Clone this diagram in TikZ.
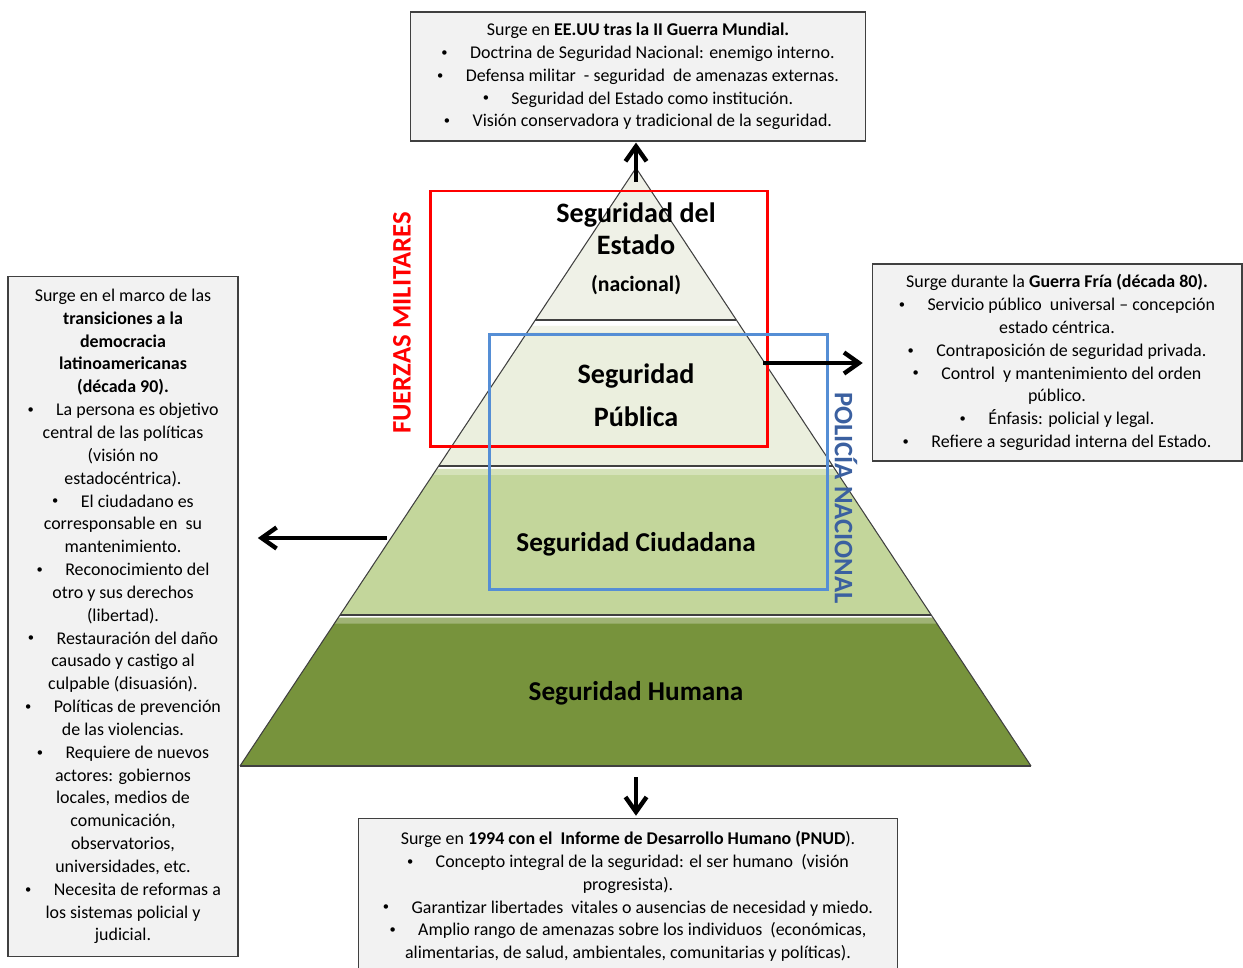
\documentclass[tikz,border=0pt]{standalone}
\usepackage{fontspec}
\usepackage{graphicx}
\setmainfont{Carlito}
\usetikzlibrary{arrows.meta,calc}
\definecolor{estado}{RGB}{239,241,231}
\definecolor{publica}{RGB}{235,239,222}
\definecolor{ciudadana}{RGB}{195,214,155}
\definecolor{humana}{RGB}{119,147,60}
\definecolor{borde}{RGB}{64,64,64}
\definecolor{fondo}{RGB}{242,242,242}
\definecolor{rojo}{RGB}{255,0,0}
\definecolor{azul}{RGB}{85,142,213}
\definecolor{azulosc}{RGB}{59,96,160}
\newcommand{\bul}{\raisebox{0.12em}{\scalebox{0.7}{\textbullet}}\hspace{1.25em}}
\begin{document}
\begin{tikzpicture}[x=0.02cm, y=-0.02cm,
  caja/.style={draw=borde, fill=fondo, line width=0.6pt, inner sep=0pt, align=center,
    font=\fontsize{10.2}{13}\selectfont},
  flecha/.style={line width=2.5pt, -{Straight Barb[length=8.5pt,width=12pt]}},
  capa/.style={align=center, font=\bfseries\fontsize{15.5}{18}\selectfont},
  vertical/.style={font=\bfseries\fontsize{15.2}{16}\selectfont}]

\useasboundingbox (0,0) rectangle (1243,967);

\coordinate (apex) at (636,168);
\coordinate (bl) at (240,766);
\coordinate (br) at (1031,766);

% capas de la piramide
\foreach \ttop/\tbot/\col in {0/0.254/estado, 0.264/0.498/publica, 0.503/0.747/ciudadana, 0.752/1/humana} {
  \pgfmathsetmacro\tbev{\ttop+0.01}
  \fill[\col] ($(apex)!\ttop!(bl)$) -- ($(apex)!\tbot!(bl)$) -- ($(apex)!\tbot!(br)$) -- ($(apex)!\ttop!(br)$) -- cycle;
  \fill[white, opacity=0.3] ($(apex)!\ttop!(bl)$) -- ($(apex)!\tbev!(bl)$) -- ($(apex)!\tbev!(br)$) -- ($(apex)!\ttop!(br)$) -- cycle;
  \draw[borde, line width=1pt] ($(apex)!\tbot!(bl)$) -- ($(apex)!\tbot!(br)$);
}
\draw[borde, line width=0.6pt] (bl) -- (apex) -- (br);

\node[capa, font=\bfseries\fontsize{16}{18.1}\selectfont] (estadolbl) at (636,229) {Seguridad del\\Estado};
\node[capa, font=\bfseries\fontsize{12.4}{14}\selectfont] (nacional) at (636,285) {(nacional)};
\node[capa, font=\bfseries\fontsize{16}{24.4}\selectfont] (publicalbl) at (636,395) {Seguridad\\Pública};
\node[capa] (ciudadanalbl) at (636,544) {Seguridad Ciudadana};
\node[capa] (humanalbl) at (636,693) {Seguridad Humana};

% marcos de las fuerzas
\draw[rojo, line width=1.7pt] (430,191) rectangle (767,446);
\draw[azul, line width=1.7pt] (489,334) rectangle (827,589);
\node[vertical, rotate=90, text=rojo] (fuerzas) at (402,323) {FUERZAS MILITARES};
\node[vertical, rotate=-90, text=azulosc] (policia) at (846,498) {POLICÍA NACIONAL};

% cajas de texto
\node[caja, minimum width=9.12cm, minimum height=2.58cm] (topbox) at (638,76.5) {%
Surge en \textbf{EE.UU tras la II Guerra Mundial.}\\
\bul Doctrina de Seguridad Nacional: enemigo interno.\\
\bul Defensa militar \ - seguridad \ de amenazas externas.\\
\bul Seguridad del Estado como institución.\\
\bul Visión conservadora y tradicional de la seguridad.};

\node[caja, minimum width=4.6cm, minimum height=13.62cm] (leftbox) at (123,616.5) {%
Surge en el marco de las\\
\textbf{transiciones a la}\\
\textbf{democracia}\\
\textbf{latinoamericanas}\\
\textbf{(década 90).}\\
\bul La persona es objetivo\\
central de las políticas\\
(visión no\\
estadocéntrica).\\
\bul El ciudadano es\\
corresponsable en \ su\\
mantenimiento.\\
\bul Reconocimiento del\\
otro y sus derechos\\
(libertad).\\
\bul Restauración del daño\\
causado y castigo al\\
culpable (disuasión).\\
\bul Políticas de prevención\\
de las violencias.\\
\bul Requiere de nuevos\\
actores: gobiernos\\
locales, medios de\\
comunicación,\\
observatorios,\\
universidades, etc.\\
\bul Necesita de reformas a\\
los sistemas policial y\\
judicial.};

\node[caja, minimum width=7.4cm, minimum height=3.94cm] (rightbox) at (1057,362.5) {%
Surge durante la \textbf{Guerra Fría (década 80).}\\
\bul Servicio público \ universal -- concepción\\
estado céntrica.\\
\bul Contraposición de seguridad privada.\\
\bul Control \ y mantenimiento del orden\\
público.\\
\bul Énfasis: policial y legal.\\
\bul Refiere a seguridad interna del Estado.};

\node[caja, minimum width=10.8cm, minimum height=3.14cm] (bottombox) at (628,896.5) {%
Surge en \textbf{1994 con el \ Informe de Desarrollo Humano (PNUD}).\\
\bul Concepto integral de la seguridad: el ser humano \ (visión\\
progresista).\\
\bul Garantizar libertades \ vitales o ausencias de necesidad y miedo.\\
\bul Amplio rango de amenazas sobre los individuos \ (económicas,\\
alimentarias, de salud, ambientales, comunitarias y políticas).};

% flechas
\coordinate (apextop) at (636,182);
\coordinate (pubright) at (763,363);
\coordinate (ciudleft) at (387,538);
\coordinate (humdown) at (636,777);
\draw[flecha, shorten >=0.6pt] (apextop) -- (apextop |- topbox.south);
\draw[flecha, shorten >=5pt] (pubright) -- (pubright -| rightbox.west);
\draw[flecha, shorten >=11pt] (ciudleft) -- (ciudleft -| leftbox.east);
\draw[flecha, shorten >=1pt] (humdown) -- (humdown |- bottombox.north);
\end{tikzpicture}
\end{document}
